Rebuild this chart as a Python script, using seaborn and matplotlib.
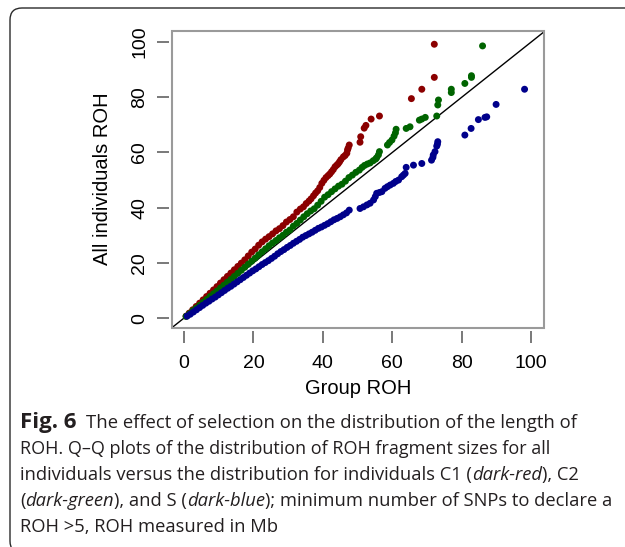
import matplotlib
matplotlib.use("Agg")
import matplotlib.pyplot as plt
from matplotlib.patches import FancyBboxPatch, Rectangle
from matplotlib.transforms import IdentityTransform
import seaborn as sns
import pandas as pd

# ---- data (quantiles, Mb) ----
c1_x = [0.6, 1.5, 2.5, 3.5, 4.5, 5.5, 6.5, 7.5, 8.5, 9.5,
        10.5, 11.5, 12.5, 13.5, 14.5, 15.5, 16.5, 17.5, 18.5, 19.5,
        20.5, 21.5, 22.5, 23.5, 24.5, 25.5, 26.5, 27.5, 28.5, 29.5,
        30.5, 31.5, 32.5, 33.5, 34.4, 35.2, 36.0, 36.6, 37.3, 37.9,
        38.5, 39.1, 39.7, 40.3, 40.9, 41.5, 42.0, 42.5, 43.0, 43.5,
        44.0, 44.4, 44.8, 45.2, 45.9, 46.4, 46.9, 47.1, 47.3, 47.6,
        50.7, 50.9, 51.9, 52.4, 53.9, 56.3, 65.5, 68.5, 72.1, 72.1]
c1_y = [0.7, 1.8, 3.0, 4.2, 5.4, 6.6, 7.8, 9.0, 10.2, 11.4,
        12.7, 13.9, 15.1, 16.3, 17.5, 18.7, 19.9, 21.1, 22.5, 23.9,
        25.0, 26.4, 27.6, 28.6, 29.5, 30.5, 31.6, 32.4, 33.5, 34.8,
        35.7, 36.7, 38.4, 39.5, 40.3, 41.5, 42.4, 43.2, 44.3, 45.3,
        46.1, 47.3, 48.8, 49.9, 50.9, 51.6, 52.2, 53.0, 53.8, 54.8,
        55.4, 55.9, 56.6, 57.4, 58.4, 58.9, 59.7, 60.9, 61.6, 62.7,
        63.7, 65.7, 68.8, 69.8, 72.1, 73.2, 79.5, 82.9, 87.2, 99.2]

c2_x = [0.6, 1.5, 2.5, 3.5, 4.5, 5.5, 6.5, 7.5, 8.5, 9.5,
        10.5, 11.5, 12.5, 13.5, 14.5, 15.5, 16.5, 17.5, 18.5, 19.5,
        20.5, 21.5, 22.5, 23.5, 24.5, 25.5, 26.5, 27.5, 28.5, 29.5,
        30.5, 31.5, 32.5, 33.5, 34.5, 35.5, 36.5, 37.5, 38.5, 39.5,
        40.5, 41.5, 42.5, 43.5, 44.5, 45.5, 46.5, 47.5, 48.5, 49.5,
        50.5, 51.3, 52.0, 52.8, 53.6, 54.5, 55.2, 55.5, 56.0, 56.3,
        58.6, 59.2, 59.9, 60.5, 60.9, 61.1, 64.0, 65.1, 67.8, 68.5,
        69.5, 72.8, 73.1, 73.3, 77.0, 77.0, 80.9, 82.8, 82.8, 86.0]
c2_y = [0.6, 1.5, 2.6, 3.6, 4.6, 5.7, 6.7, 7.8, 8.8, 9.8,
        10.9, 11.9, 13.0, 14.0, 15.1, 16.2, 17.3, 18.4, 19.5, 20.6,
        21.7, 22.9, 24.0, 25.1, 26.2, 27.2, 28.1, 29.1, 30.0, 31.1,
        31.9, 33.3, 34.3, 35.5, 36.7, 37.8, 38.8, 39.6, 40.9, 42.3,
        43.8, 44.7, 45.8, 46.8, 47.8, 48.5, 49.6, 50.9, 51.8, 52.8,
        53.6, 54.6, 55.3, 55.8, 56.2, 57.0, 57.6, 58.1, 59.1, 60.3,
        62.7, 63.6, 64.5, 65.9, 67.1, 68.4, 68.7, 69.3, 71.7, 72.1,
        72.7, 73.2, 77.2, 79.0, 81.7, 82.9, 85.0, 87.2, 87.8, 98.6]

s_x = [0.9, 1.8, 2.7, 3.6, 4.5, 5.4, 6.3, 7.2, 8.1, 9.0,
       9.9, 10.8, 11.7, 12.6, 13.5, 14.4, 15.3, 16.2, 17.1, 18.0,
       18.9, 19.8, 20.7, 21.6, 22.5, 23.4, 24.3, 25.2, 26.1, 27.0,
       27.9, 28.8, 29.7, 30.6, 31.5, 32.4, 33.3, 34.2, 35.1, 36.0,
       36.9, 37.8, 38.7, 39.6, 40.5, 41.4, 42.3, 43.2, 44.1, 45.0,
       45.9, 46.8, 47.6, 50.7, 51.7, 52.7, 53.6, 54.6, 55.1, 55.5,
       56.3, 57.0, 57.9, 58.6, 59.4, 60.3, 61.0, 61.8, 62.7, 63.2,
       63.7, 64.0, 66.1, 68.5, 71.3, 71.7, 71.8, 72.3, 72.8, 73.0,
       73.1, 80.9, 82.7, 84.8, 86.7, 87.2, 89.9, 98.1]
s_y = [0.7, 1.4, 2.2, 3.0, 3.8, 4.6, 5.4, 6.1, 6.9, 7.6,
       8.4, 9.2, 10.0, 10.8, 11.5, 12.3, 13.1, 13.9, 14.7, 15.5,
       16.3, 17.1, 17.8, 18.6, 19.4, 20.1, 20.8, 21.6, 22.4, 23.3,
       24.1, 24.8, 25.6, 26.3, 27.1, 27.8, 28.5, 29.3, 29.9, 30.5,
       31.1, 31.8, 32.5, 33.0, 33.6, 34.2, 34.9, 35.6, 36.1, 36.7,
       37.4, 38.1, 39.1, 39.7, 40.3, 41.0, 41.6, 42.8, 44.0, 45.2,
       45.5, 45.8, 47.0, 47.6, 48.2, 48.8, 49.5, 50.0, 51.2, 51.8,
       52.4, 54.6, 55.4, 56.0, 57.2, 58.2, 59.1, 60.3, 62.3, 63.0,
       63.9, 66.3, 68.7, 71.9, 72.7, 72.9, 77.4, 82.9]

groups = ["C1", "C2", "S"]
colors = {"C1": "#8B0000", "C2": "#006400", "S": "#00008B"}
ticks = [0, 20, 40, 60, 80, 100]

x_label = "Group ROH"
y_label = "All individuals ROH"

# (text, weight, style, size, gap before segment in px)
caption_lines = [
    [("Fig. 6", "bold", "normal", 16.0, 0),
     ("The effect of selection on the distribution of the length of", "normal", "normal", 13.3, 10)],
    [("ROH. Q\u2013Q plots of the distribution of ROH fragment sizes for all", "normal", "normal", 13.0, 0)],
    [("individuals versus the distribution for individuals C1 (", "normal", "normal", 13.2, 0),
     ("dark-red", "normal", "italic", 13.2, 0), ("), C2", "normal", "normal", 13.2, 0)],
    [("(", "normal", "normal", 13.2, 0), ("dark-green", "normal", "italic", 13.2, 0),
     ("), and S (", "normal", "normal", 13.2, 0), ("dark-blue", "normal", "italic", 13.2, 0),
     ("); minimum number of SNPs to declare a", "normal", "normal", 13.2, 0)],
    [("ROH >5, ROH measured in Mb", "normal", "normal", 13.2, 0)],
]

df = pd.concat([
    pd.DataFrame({"group_roh": c1_x, "all_roh": c1_y, "grp": "C1"}),
    pd.DataFrame({"group_roh": c2_x, "all_roh": c2_y, "grp": "C2"}),
    pd.DataFrame({"group_roh": s_x, "all_roh": s_y, "grp": "S"}),
], ignore_index=True)

# ---- figure ----
sns.set_theme(style="white")
plt.rcParams["font.family"] = ["Liberation Sans", "DejaVu Sans"]

W, H = 625, 547
fig = plt.figure(figsize=(W / 100, H / 100), dpi=100)
fig.patch.set_facecolor("white")

# outer rounded frame (open on the right / bottom like the source)
frame = FancyBboxPatch((10, -6), 700, H - 8 + 6, boxstyle="round,pad=0,rounding_size=12",
                       transform=IdentityTransform(), fill=False, lw=1.0, ec="#2a2a2a")
fig.add_artist(frame)

left, right, top, bottom = 172, 544, 31, 328
ax = fig.add_axes([left / W, 1 - bottom / H, (right - left) / W, (bottom - top) / H])

ax.axline((0, 0), slope=1, color="black", lw=1.0, zorder=1)
sns.scatterplot(data=df, x="group_roh", y="all_roh", hue="grp", hue_order=groups,
                palette=colors, s=25, linewidth=0, alpha=1, legend=False, ax=ax, zorder=2)

ax.set_xlim(-3.46, 103.7)
ax.set_ylim(-3.6, 104.0)
ax.set_xticks(ticks)
ax.set_yticks(ticks)
ax.set_xticklabels([str(t) for t in ticks])
ax.set_yticklabels([str(t) for t in ticks])

for side in ["left", "bottom"]:
    ax.spines[side].set_position(("outward", 2))
for side in ax.spines:
    ax.spines[side].set_visible(False)
ax.add_patch(Rectangle((0, 0), 1, 1, transform=ax.transAxes, fill=False,
                       ec="#9a9a9a", lw=1.5, zorder=5, clip_on=False))

ax.tick_params(axis="both", direction="out", length=8.6, width=1.1, color="#555555",
               labelsize=14, labelcolor="black")
ax.tick_params(axis="x", bottom=True, pad=9)
ax.tick_params(axis="y", left=True, pad=6.5, labelrotation=90)
for lab in ax.get_yticklabels():
    lab.set_va("center")

ax.set_xlabel(x_label, fontsize=14.5, color="black")
ax.set_ylabel(y_label, fontsize=14.5, color="black")
ax.xaxis.set_label_coords(0.5, (bottom - 388) / (bottom - top))
ax.yaxis.set_label_coords((102 - left) / (right - left), 0.503)
ax.xaxis.label.set_va("center")
ax.yaxis.label.set_va("center")

# ---- caption ----
renderer = fig.canvas.get_renderer()
cap_family = ["Open Sans", "DejaVu Sans"]
for i, segs in enumerate(caption_lines):
    x = 20.0
    yb = H - (428 + 26 * i)
    for txt, wgt, sty, size, gap in segs:
        x += gap
        t = fig.text(x / W, yb / H, txt, fontsize=size, fontweight=wgt, fontstyle=sty,
                     family=cap_family, color="#231f20", ha="left", va="baseline")
        bb = t.get_window_extent(renderer)
        x += bb.width

fig.savefig("out.png", dpi=100)
